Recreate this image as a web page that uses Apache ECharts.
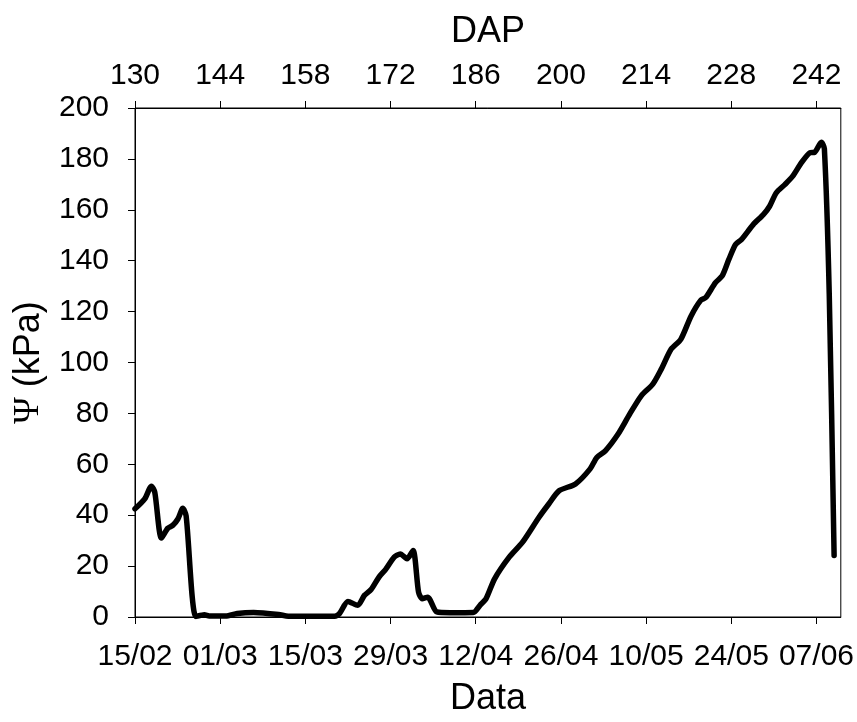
<!DOCTYPE html>
<html>
<head>
<meta charset="utf-8">
<script src="https://cdn.jsdelivr.net/npm/echarts@6/dist/echarts.min.js"></script>
<style>html,body{margin:0;padding:0;background:#fff}#c{width:857px;height:722px}</style>
</head>
<body>
<div id="c"></div>
<script>
// days since 15/02 (DAP = day + 130)
const days = [0, 1.6, 2.7, 3.25, 4.35, 5.4, 6.2, 7.05, 7.86, 8.4, 10.0, 11.4, 12.2, 14.9, 16.8, 19.5, 23.6, 25.2, 32.8, 33.6, 35.0, 36.6, 37.7, 38.8, 40.1, 41.2, 42.6, 43.6, 44.7, 45.7, 46.6, 47.2, 48.1, 49.6, 51.8, 55.6, 56.7, 57.7, 59.1, 61.5, 63.7, 66.4, 68.0, 69.7, 72.4, 74.8, 75.9, 77.3, 79.4, 81.3, 83.2, 85.1, 86.5, 88.1, 89.7, 91.4, 93.0, 93.8, 95.4, 96.5, 97.6, 98.7, 99.7, 101.6, 103.3, 104.3, 105.4, 106.8, 108.1, 109.5, 110.9, 111.7, 112.8, 113.3, 114.1, 114.9];
const psi = [42.5, 46.4, 51.4, 49, 31, 34.9, 36, 38.5, 42.7, 39.8, 0.2, 0.9, 0.4, 0.4, 1.4, 1.8, 1.0, 0.3, 0.3, 1.3, 6.1, 4.6, 8.5, 10.8, 15.7, 18.7, 23.5, 24.8, 22.9, 26.1, 9.8, 7.2, 7.8, 2.0, 1.7, 1.8, 4.6, 7.2, 15, 23.5, 29.4, 39.2, 44.4, 49.6, 52.3, 58.2, 62.7, 65.3, 71.9, 79.7, 86.9, 91.5, 97.4, 105.2, 109.1, 118.3, 124.5, 125.5, 131.4, 134, 140.5, 146.4, 148.4, 154.2, 158.2, 161.4, 166.7, 169.9, 173.2, 178.4, 182.4, 182.6, 186.5, 184, 127, 24.2];
const dateTicks = [0, 14, 28, 42, 56, 70, 84, 98, 112];
const dateLabels = ['15/02', '01/03', '15/03', '29/03', '12/04', '26/04', '10/05', '24/05', '07/06'];
const dapLabels = ['130', '144', '158', '172', '186', '200', '214', '228', '242'];
const yTicks = [0, 20, 40, 60, 80, 100, 120, 140, 160, 180, 200];

const FONT = 'Liberation Sans';
const FS = 30;
const NFS = 36;
const chart = echarts.init(document.getElementById('c'), null, {renderer: 'canvas'});
const axisCommon = {
  type: 'value', min: 0, max: 116,
  axisLine: {show: true, lineStyle: {color: '#000', width: 1}},
  axisTick: {show: true, inside: false, length: 7, lineStyle: {color: '#000'}, customValues: dateTicks},
  splitLine: {show: false},
  nameLocation: 'middle',
  nameTextStyle: {color: '#000', fontFamily: FONT, fontSize: NFS}
};
chart.setOption({
  animation: false,
  backgroundColor: '#fff',
  grid: {left: 135, right: 9, top: 108, bottom: 104, show: true, borderColor: '#000', borderWidth: 1, backgroundColor: 'transparent'},
  xAxis: [
    Object.assign({}, axisCommon, {
      position: 'bottom', name: 'Data', nameGap: 64,
      axisLabel: {color: '#000', fontFamily: FONT, fontSize: FS, margin: 25, customValues: dateTicks,
        formatter: v => dateLabels[dateTicks.indexOf(v)] || ''}
    }),
    Object.assign({}, axisCommon, {
      position: 'top', name: 'DAP', nameGap: 58,
      axisLabel: {color: '#000', fontFamily: FONT, fontSize: FS, margin: 17, customValues: dateTicks,
        formatter: v => dapLabels[dateTicks.indexOf(v)] || ''}
    })
  ],
  yAxis: {
    type: 'value', min: 0, max: 200, interval: 20,
    name: '{s|Ψ} (kPa)', nameLocation: 'middle', nameGap: 88,
    nameTextStyle: {color: '#000', fontFamily: FONT, fontSize: NFS,
      rich: {s: {fontFamily: 'Liberation Serif', fontSize: NFS, color: '#000'}}},
    axisLine: {show: true, lineStyle: {color: '#000', width: 1}},
    axisTick: {show: true, inside: false, length: 7, lineStyle: {color: '#000'}},
    axisLabel: {color: '#000', fontFamily: FONT, fontSize: FS, margin: 26,
      formatter: v => String(yTicks[yTicks.indexOf(v)])},
    splitLine: {show: false}
  },
  series: [{
    type: 'line', xAxisIndex: 0,
    data: days.map((d, i) => [d, psi[i]]),
    showSymbol: false, smooth: 0.25,
    lineStyle: {color: '#000', width: 5.5, cap: 'round', join: 'round'}
  }]
});
</script>
</body>
</html>
